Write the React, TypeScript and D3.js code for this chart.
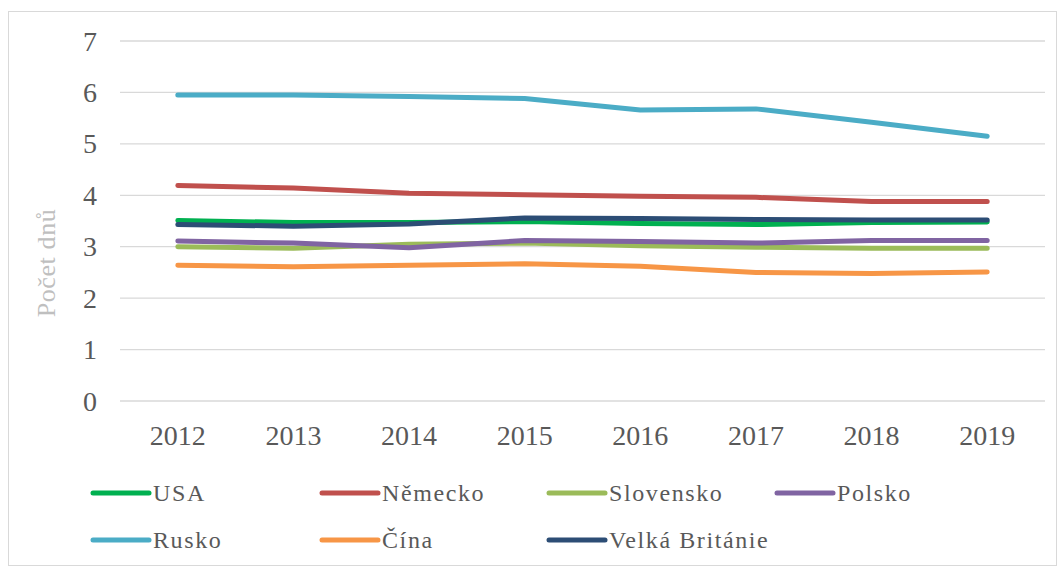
import * as d3 from "d3";

const W = 1064;
const H = 570;

// data
const years = ["2012", "2013", "2014", "2015", "2016", "2017", "2018", "2019"];
const seriesNames = ["USA", "Německo", "Slovensko", "Polsko", "Rusko", "Čína", "Velká Británie"];
const colors = ["#00b050", "#c0504d", "#9bbb59", "#8064a2", "#4bacc6", "#f79646", "#2c4d75"];
const usa = [3.51, 3.47, 3.47, 3.49, 3.45, 3.43, 3.47, 3.48];
const nemecko = [4.19, 4.14, 4.04, 4.01, 3.98, 3.96, 3.88, 3.88];
const slovensko = [3.0, 2.97, 3.05, 3.07, 3.02, 2.99, 2.97, 2.97];
const polsko = [3.11, 3.07, 2.98, 3.12, 3.1, 3.07, 3.12, 3.12];
const rusko = [5.95, 5.95, 5.92, 5.88, 5.66, 5.68, 5.42, 5.15];
const cina = [2.64, 2.61, 2.64, 2.67, 2.62, 2.5, 2.48, 2.51];
const velkaBritanie = [3.43, 3.4, 3.44, 3.56, 3.55, 3.53, 3.52, 3.52];
const yTicks = [0, 1, 2, 3, 4, 5, 6, 7];

const allSeries = [usa, nemecko, slovensko, polsko, rusko, cina, velkaBritanie];

const margin = { left: 120, right: 19, top: 41, bottom: 169 };

const x = d3
  .scaleBand()
  .domain(years)
  .range([margin.left, W - margin.right]);

const y = d3
  .scaleLinear()
  .domain([0, 7])
  .range([H - margin.bottom, margin.top]);

const line = d3
  .line<number>()
  .x((_, i) => (x(years[i]) as number) + x.bandwidth() / 2)
  .y((d) => y(d));

const FONT = "'Liberation Serif', 'DejaVu Serif', serif";

// legend layout
const legendCols = [93, 322, 549, 777];
const legendRows = [493, 540];

export default function App() {
  return (
    <div style={{ position: "absolute", left: 0, top: 0 }}>
      <svg width={W} height={H} style={{ display: "block", background: "#fff" }}>
        <rect x={8.5} y={11.5} width={1048} height={554} fill="#fff" stroke="#d9d9d9" />

        {/* gridlines */}
        {yTicks.map((t) => (
          <line
            key={t}
            x1={margin.left}
            x2={W - margin.right}
            y1={y(t)}
            y2={y(t)}
            stroke="#d9d9d9"
            strokeWidth={1.3}
          />
        ))}

        {/* y tick labels */}
        {yTicks.map((t) => (
          <text
            key={t}
            x={97}
            y={y(t)}
            dy="0.34em"
            textAnchor="end"
            fontFamily={FONT}
            fontSize={28}
            fill="#595959"
          >
            {t}
          </text>
        ))}

        {/* y title */}
        <text
          transform={`translate(55,263) rotate(-90)`}
          textAnchor="middle"
          fontFamily={FONT}
          fontSize={26}
          letterSpacing={0.6}
          fill="#bfbfbf"
        >
          Počet dnů
        </text>

        {/* x tick labels */}
        {years.map((yr) => (
          <text
            key={yr}
            x={(x(yr) as number) + x.bandwidth() / 2}
            y={445}
            textAnchor="middle"
            fontFamily={FONT}
            fontSize={28}
            fill="#595959"
          >
            {yr}
          </text>
        ))}

        {/* series */}
        {allSeries.map((s, i) => (
          <path
            key={seriesNames[i]}
            d={line(s) as string}
            fill="none"
            stroke={colors[i]}
            strokeWidth={5}
            strokeLinecap="round"
            strokeLinejoin="round"
          />
        ))}

        {/* legend */}
        {seriesNames.map((name, i) => {
          const lx = legendCols[i % 4];
          const ly = legendRows[Math.floor(i / 4)];
          return (
            <g key={name}>
              <line
                x1={lx}
                x2={lx + 56}
                y1={ly}
                y2={ly}
                stroke={colors[i]}
                strokeWidth={5}
                strokeLinecap="round"
              />
              <text
                x={lx + 60}
                y={ly}
                dy="0.35em"
                fontFamily={FONT}
                fontSize={24}
                letterSpacing={1.6}
                fill="#595959"
              >
                {name}
              </text>
            </g>
          );
        })}
      </svg>
    </div>
  );
}
